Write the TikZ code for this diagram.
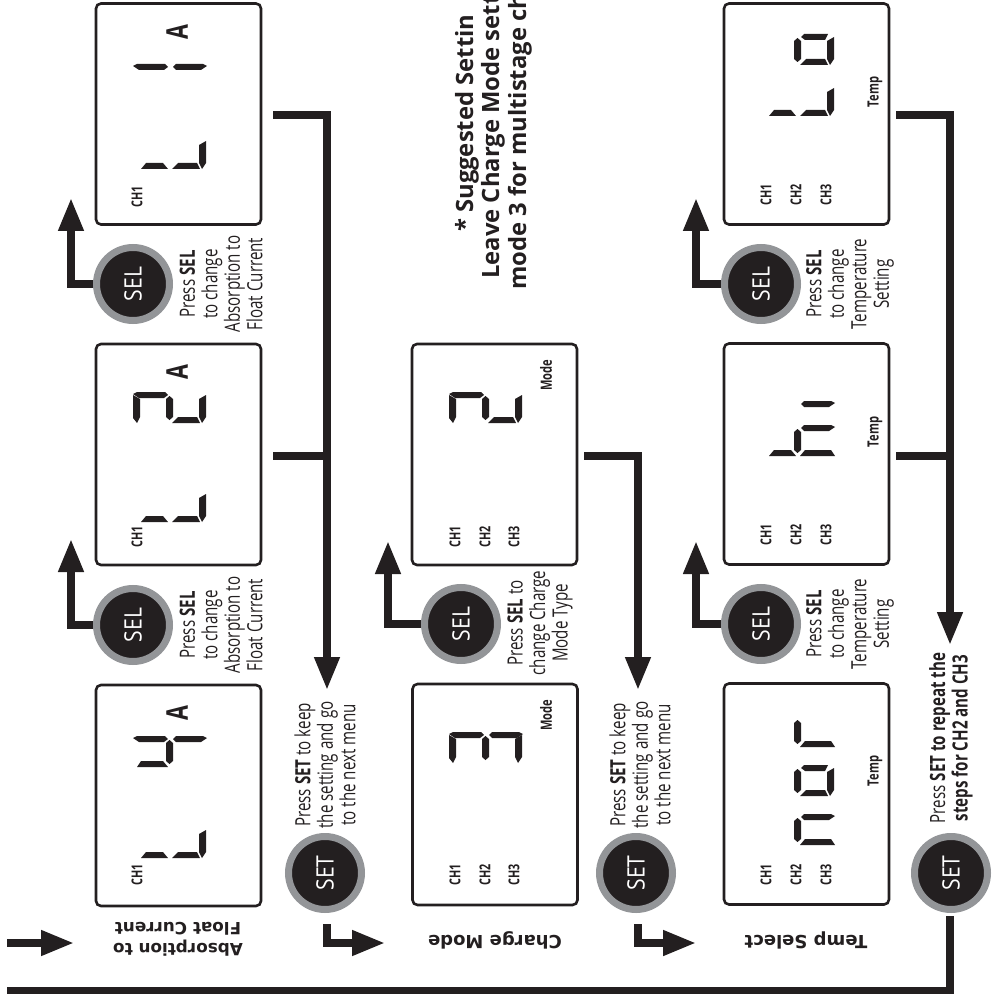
\documentclass[tikz,border=0pt]{standalone}
\usepackage{fontspec}
\usetikzlibrary{arrows.meta}
\setmainfont{Open Sans}
\newfontfamily\cond[FakeStretch=0.72]{Open Sans}
\newfontfamily\btnf[FakeStretch=0.88]{Open Sans}
\newfontfamily\headf{DejaVu Sans}
\definecolor{ink}{HTML}{231F20}
\definecolor{ring}{HTML}{939598}
\newcommand\segA{(-30,-9)--(-37,-13)--(-37,10)--(-33,15)--(-30,9)--cycle}
\newcommand\segD{(29,-9)--(36,-13)--(36,9)--(32,15)--(29,9)--cycle}
\newcommand\segG{(-4,-9)--(-0.5,-12)--(3,-9)--(3,9)--(-0.5,12)--(-4,9)--cycle}
\newcommand\segB{(-37,-14)--(-33,-16)--(-5,-16)--(-2,-13)--(-6,-10)--(-31,-10)--cycle}
\newcommand\segC{(3,-13)--(6,-16)--(33,-16)--(37,-14)--(31,-10)--(6,-10)--cycle}
\newcommand\segH{(3,-13)--(6,-16)--(30,-16)--(27,-10)--(7,-10)--cycle}
\newcommand\segF{(-29,15)--(-2,15)--(-7,9)--(-24,9)--cycle}
\newcommand\segL{(-33,15)--(-2,15)--(-7,9)--(-29,9)--cycle}
\newcommand\segE{(2,15)--(30,15)--(27,9)--(8,9)--cycle}
\newcommand\segK{(2,15)--(37,15)--(33,9)--(7,9)--cycle}
\newcommand\dg[3]{\begin{scope}[shift={(#1,#2)}]\foreach \s in {#3}{\fill[ink] \csname seg\s\endcsname;}\end{scope}}
\tikzset{
 x=1pt,y=-1pt,
 lcd/.style={draw=ink,line width=2.6pt,rounded corners=5pt,minimum width=165pt,minimum height=221pt,inner sep=0pt},
 btn/.style={circle,draw=ring,fill=ink,line width=7pt,minimum size=73pt,inner sep=0pt,text=white,font={\btnf\fontsize{24}{24}\selectfont}},
 link/.style={draw=ink,line width=7.4pt},
 bigtip/.style={-{Triangle[length=33pt,width=24pt,color=ink]}},
 ch/.style={rotate=90,text=ink,font={\cond\bfseries\fontsize{15}{16}\selectfont},inner sep=0pt},
 tag/.style={rotate=90,text=ink,font={\cond\bfseries\fontsize{15.5}{16}\selectfont},inner sep=0pt},
 amp/.style={rotate=90,text=ink,font={\cond\bfseries\fontsize{30}{30}\selectfont},inner sep=0pt},
 note/.style={rotate=90,align=center,text=ink,inner sep=0pt,font={\cond\fontsize{21}{22.5}\selectfont}},
 head/.style={rotate=180,align=center,text=ink,inner sep=0pt,font={\headf\bfseries\fontsize{18}{21}\selectfont}},
 headb/.style={head,font={\headf\bfseries\fontsize{16.8}{21}\selectfont}},
 sugg/.style={rotate=90,anchor=base west,text=ink,inner sep=0pt,font={\bfseries\fontsize{23.8}{26}\selectfont}},
}
\begin{document}
\begin{tikzpicture}
\useasboundingbox (0,0) rectangle (996,995);
% displays
\node[lcd] (b1) at (178.5,114) {};
\node[lcd] (b2) at (178.5,454.5) {};
\node[lcd] (b3) at (178.5,795.5) {};
\node[lcd] (m2) at (494.5,454.5) {};
\node[lcd] (m3) at (495,794.5) {};
\node[lcd] (r1) at (806.5,114) {};
\node[lcd] (r2) at (806.5,454) {};
\node[lcd] (r3) at (806.5,794) {};
% digits
\dg{170}{154}{F,E,D}\dg{170}{80}{B,C}
\dg{170}{507}{F,E,D}\dg{170}{408}{A,B,G,E,D}
\dg{170}{843}{F,E,D}\dg{170}{752}{L,G,B,C}
\dg{486}{408}{A,B,G,E,D}
\dg{486}{748}{A,B,G,C,D}
\dg{798}{101}{F,E,D}\dg{798}{50}{G,H,E,D}
\dg{798}{441}{F,K,G,C}\dg{798}{417}{C}
\dg{798}{830}{K,G,C}\dg{798}{781}{G,H,E,D}\dg{798}{732}{K,G}
% labels in the displays
\node[ch] (c1) at (137,197) {CH1};
\node[ch] (c2) at (137,537) {CH1};
\node[ch] (c3) at (137,875) {CH1};
\node[ch] (c4) at (455,537) {CH1};
\node[ch] (c5) at (485,537) {CH2};
\node[ch] (c6) at (514,537) {CH3};
\node[ch] (c7) at (455,875) {CH1};
\node[ch] (c8) at (485,875) {CH2};
\node[ch] (c9) at (514,875) {CH3};
\node[ch] (c10) at (766,195) {CH1};
\node[ch] (c11) at (796,195) {CH2};
\node[ch] (c12) at (826,195) {CH3};
\node[ch] (c13) at (766,535) {CH1};
\node[ch] (c14) at (796,535) {CH2};
\node[ch] (c15) at (826,535) {CH3};
\node[ch] (c16) at (766,875) {CH1};
\node[ch] (c17) at (796,875) {CH2};
\node[ch] (c18) at (826,875) {CH3};
\node[amp] (a1) at (177,32) {A};
\node[amp] (a2) at (177,372) {A};
\node[amp] (a3) at (177,713) {A};
\node[tag] (t1) at (546,375) {Mode};
\node[tag] (t2) at (546,715) {Mode};
\node[tag] (t3) at (875,92) {Temp};
\node[tag] (t4) at (875,432) {Temp};
\node[tag] (t5) at (875,771) {Temp};
% buttons
\node[btn] (sel1) at (133,284) {\rotatebox{90}{SEL}};
\node[btn] (sel2) at (133,625) {\rotatebox{90}{SEL}};
\node[btn] (sel3) at (461,624) {\rotatebox{90}{SEL}};
\node[btn] (sel4) at (761,284) {\rotatebox{90}{SEL}};
\node[btn] (sel5) at (761,624) {\rotatebox{90}{SEL}};
\node[btn] (set1) at (325,873) {\rotatebox{90}{SET}};
\node[btn] (set2) at (636,873) {\rotatebox{90}{SET}};
\node[btn] (set3) at (951,873) {\rotatebox{90}{SET}};
% coordinates for connectors
\coordinate (tipa) at (71,198);
\coordinate (tipb) at (71,539);
\coordinate (tipc) at (388,541);
\coordinate (tipd) at (696,198);
\coordinate (tipe) at (696,541);
\coordinate (l1) at (273,115);
\coordinate (l2) at (273,456);
\coordinate (l3) at (327,456);
\coordinate (ltip) at (327,690);
\coordinate (m1) at (584,456);
\coordinate (mtip) at (638,690);
\coordinate (n1) at (896,115);
\coordinate (n2) at (896,456);
\coordinate (n3) at (950,456);
\coordinate (ntip) at (950,645);
\coordinate (s1a) at (327,924);
\coordinate (s1b) at (385,943);
\coordinate (s2a) at (638,924);
\coordinate (s2b) at (696,943);
\coordinate (h1) at (7,943);
\coordinate (h2) at (74,943);
\coordinate (ba) at (950,916);
\coordinate (bb) at (7,990.5);
% connectors
\draw[link,bigtip] (sel1.west) -| (tipa);
\draw[link,bigtip] (sel2.west) -| (tipb);
\draw[link,bigtip] (sel3.west) -| (tipc);
\draw[link,bigtip] (sel4.west) -| (tipd);
\draw[link,bigtip] (sel5.west) -| (tipe);
\draw[link,bigtip] (l1) -| (ltip);
\draw[link] (l2) -- (l3);
\draw[link,bigtip] (m1) -| (mtip);
\draw[link,bigtip] (n1) -| (ntip);
\draw[link] (n2) -- (n3);
\draw[link,bigtip] (s1a) |- (s1b);
\draw[link,bigtip] (s2a) |- (s2b);
\draw[link,bigtip] (h1) -- (h2);
\draw[link] (ba) |- (bb);
% texts
\node[note] (p1) at (221,284) {Press \textbf{SEL}\\to change\\Absorption to\\Float Current};
\node[note] (p2) at (221,625) {Press \textbf{SEL}\\to change\\Absorption to\\Float Current};
\node[note] (p3) at (540,623) {Press \textbf{SEL} to\\change Charge\\Mode Type};
\node[note] (p4) at (850,284) {Press \textbf{SEL}\\to change\\Temperature\\Setting};
\node[note] (p5) at (850,624) {Press \textbf{SEL}\\to change\\Temperature\\Setting};
\node[note] (k1) at (325,765) {Press \textbf{SET} to keep\\the setting and go\\to the next menu};
\node[note] (k2) at (640,765) {Press \textbf{SET} to keep\\the setting and go\\to the next menu};
\node[note] (k3) at (951,738) {Press \textbf{SET to repeat the}\\\textbf{steps  for CH2 and CH3}};
\node[headb] (h3) at (178,939) {Absorption to\\Float Current};
\node[head] (h4) at (495,940) {Charge Mode};
\node[head] (h5) at (806,940) {Temp Select};
\node[sugg] (q1) at (473,232) {* Suggested Settin};
\node[sugg] (q2) at (499,279) {Leave Charge Mode sett};
\node[sugg] (q3) at (526,290) {mode 3 for multistage ch};
\end{tikzpicture}
\end{document}
